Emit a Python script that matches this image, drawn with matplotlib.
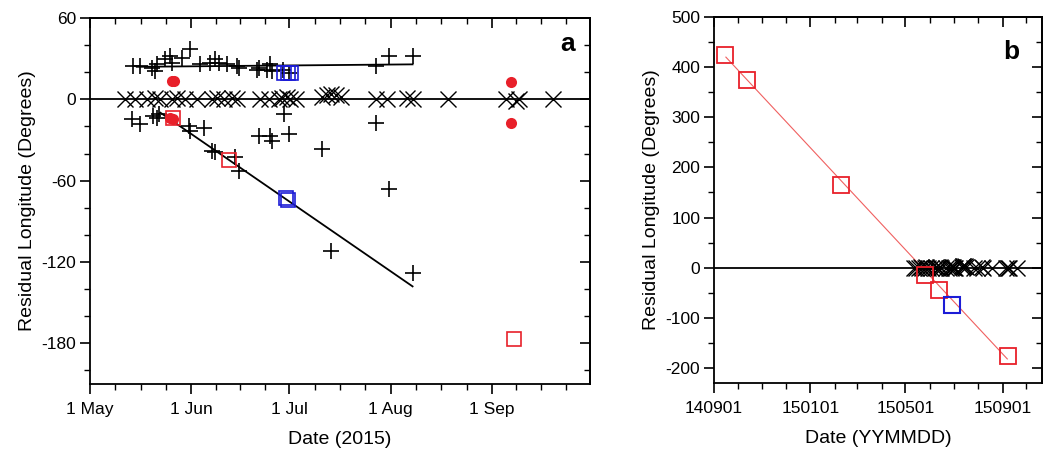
import matplotlib
matplotlib.use("Agg")
import matplotlib.pyplot as plt
import matplotlib.dates as mdates
from matplotlib.ticker import FixedLocator, MultipleLocator
from datetime import datetime
import numpy as np

plt.rcParams['font.family'] = ['Liberation Sans', 'DejaVu Sans']
plt.rcParams['axes.unicode_minus'] = False

# ---- panel a data (days after 1 May 2015, residual longitude in degrees)
plus_days = [13.3, 15.3, 18.9, 19.9, 20.4, 23.0, 24.5, 25.0, 28.1, 30.7, 33.7, 36.8, 38.3, 39.4,
             41.9, 45.0, 45.5, 51.1, 51.6, 54.2, 55.2, 55.7, 59.0, 60.8, 87.4, 91.5, 98.7,
             12.8, 15.3, 19.4, 20.4, 21.0, 30.2, 30.7, 34.8, 37.3, 38.3, 44.5, 45.5, 51.6,
             55.2, 55.7, 59.3, 60.8, 71.1, 87.4, 91.5, 73.6, 98.7]
plus_vals = [24.5, 24.5, 23.3, 20.8, 26.0, 29.4, 31.9, 27.0, 30.7, 36.8, 25.8, 27.0, 29.4, 27.0,
             25.8, 24.5, 23.3, 22.0, 23.3, 22.0, 25.8, 20.8, 21.5, 19.6, 24.5, 31.9, 31.9,
             -14.7, -18.4, -12.3, -13.5, -11.0, -19.6, -23.3, -20.8, -38.0, -39.2, -42.9, -52.8, -27.0,
             -27.0, -30.7, -11.0, -25.8, -36.8, -17.2, -66.2, -111.6, -128.0]

cross_days = [10.7, 13.8, 17.4, 19.9, 21.5, 25.1, 26.6, 29.1, 32.7, 37.3, 38.9, 40.9, 43.5, 45.0,
              52.1, 54.7, 57.8, 58.8, 60.3, 61.3, 62.9, 71.1, 72.6, 73.6, 75.2, 76.7, 87.4, 91.0,
              97.1, 98.7, 109.4, 127.3, 130.4, 131.4, 141.6]
cross_vals = [0, 0, 0, 1, 0, 0, 1, 0, 0, 0, 1, 0, 1, 0,
              0, 0, 0, 1, 2, 0, 0, 2, 3, 4, 3, 2, 0, 0,
              1, 0, 0, 0, -1, 0, 0]

circle_days = [25.0, 25.8, 24.5, 25.5, 128.8, 128.8]
circle_vals = [13.5, 13.5, -13.5, -14.7, 12.7, -17.7]

red_sq_days = [25.5, 42.6, 129.7]
red_sq_vals = [-13.5, -44.9, -176.7]

blue_sq_days = [59.5, 60.5, 61.5, 60.0, 60.6]
blue_sq_vals = [19.6, 19.6, 19.6, -73.0, -74.2]

fit_up_days = [14.3, 98.7]
fit_up_vals = [24.0, 25.8]
fit_dn_days = [21.5, 98.7]
fit_dn_vals = [-9.8, -138.0]

# ---- panel b data (days after 1 Sep 2014)
b_red_days = [14, 42, 160, 267, 284, 372]
b_red_vals = [425, 375, 165, -15, -44, -177]
b_blue_days = [301]
b_blue_vals = [-74]
b_fit_days = [15, 371]
b_fit_vals = [420, -182]

month_labels = ['1 May', '1 Jun', '1 Jul', '1 Aug', '1 Sep']

RED = '#e8202a'
BLUE = '#1c1cd6'

base_a = mdates.date2num(datetime(2015, 5, 1))
base_b = mdates.date2num(datetime(2014, 9, 1))

def tod(base, days):
    return base + np.array(days, dtype=float)

fig = plt.figure(figsize=(10.43, 4.5), dpi=100)
ax = fig.add_axes([0.0863, 0.1467, 0.4794, 0.8133])
bx = fig.add_axes([0.6846, 0.1489, 0.3145, 0.8133])

# panel a
ax.axhline(0, color='black', lw=1.3, zorder=1)
ax.plot(tod(base_a, fit_up_days), fit_up_vals, color='black', lw=1.3)
ax.plot(tod(base_a, fit_dn_days), fit_dn_vals, color='black', lw=1.3)
ax.plot(tod(base_a, cross_days), cross_vals, 'x', color='black', ms=11, mew=1.0, ls='none')
ax.plot(tod(base_a, plus_days), plus_vals, '+', color='black', ms=11, mew=1.2, ls='none')
ax.plot(tod(base_a, circle_days), circle_vals, 'o', color=RED, ms=8, mew=0, ls='none')
ax.plot(tod(base_a, red_sq_days), red_sq_vals, 's', mfc='none', mec=RED, ms=10, mew=1.2, ls='none')
ax.plot(tod(base_a, blue_sq_days), blue_sq_vals, 's', mfc='none', mec=BLUE, ms=10, mew=1.2, ls='none')

ax.set_xlim(base_a, mdates.date2num(datetime(2015, 10, 1)))
ax.set_ylim(-210, 60)
starts = [datetime(2015, m, 1) for m in range(5, 11)]
snum = mdates.date2num(starts)
ax.xaxis.set_major_locator(FixedLocator(snum[:5]))
ax.set_xticklabels(month_labels)
minors = []
for i in range(len(snum) - 1):
    for q in (0.25, 0.5, 0.75):
        minors.append(snum[i] + q * (snum[i + 1] - snum[i]))
ax.xaxis.set_minor_locator(FixedLocator(minors))
ax.yaxis.set_major_locator(MultipleLocator(60))
ax.yaxis.set_minor_locator(MultipleLocator(20))
ax.set_xlabel('Date (2015)', fontsize=14, labelpad=10)
ax.set_ylabel('Residual Longitude (Degrees)', fontsize=14, labelpad=4)
ax.text(0.955, 0.93, 'a', transform=ax.transAxes, fontsize=19, fontweight='bold',
        ha='center', va='center')

# panel b
bx.axhline(0, color='black', lw=1.3, zorder=1)
bx.plot(tod(base_b, b_fit_days), b_fit_vals, color='#f06060', lw=0.8)
bx.plot(tod(base_a, cross_days), cross_vals, 'x', color='black', ms=11, mew=1.0, ls='none')
bx.plot(tod(base_b, b_red_days), b_red_vals, 's', mfc='none', mec=RED, ms=11, mew=1.3, ls='none')
bx.plot(tod(base_b, b_blue_days), b_blue_vals, 's', mfc='none', mec=BLUE, ms=11, mew=1.5, ls='none')
bx.set_xlim(base_b, mdates.date2num(datetime(2015, 10, 21)))
bx.set_ylim(-230, 500)
bx.xaxis.set_major_locator(mdates.MonthLocator(bymonth=[1, 5, 9]))
bx.xaxis.set_major_formatter(mdates.DateFormatter('%y%m%d'))
bx.xaxis.set_minor_locator(mdates.MonthLocator())
bx.yaxis.set_major_locator(MultipleLocator(100))
bx.yaxis.set_minor_locator(MultipleLocator(50))
bx.set_xlabel('Date (YYMMDD)', fontsize=14, labelpad=10)
bx.set_ylabel('Residual Longitude (Degrees)', fontsize=14, labelpad=4)
bx.text(0.905, 0.905, 'b', transform=bx.transAxes, fontsize=19, fontweight='bold',
        ha='center', va='center')

for a in (ax, bx):
    for s in a.spines.values():
        s.set_linewidth(1.3)
    a.tick_params(axis='both', which='major', direction='out', length=7, width=1.2,
                  labelsize=12.5, pad=3)
    a.tick_params(axis='x', which='major', pad=6)
    a.tick_params(axis='both', which='minor', direction='out', length=4, width=1.0)
    a.tick_params(axis='x', which='both', top=False)
    a.tick_params(axis='y', which='both', right=False)
    sx = a.secondary_xaxis('top')
    sx.set_xticks(a.get_xticks())
    sx.xaxis.set_minor_locator(a.xaxis.get_minor_locator())
    sx.tick_params(which='major', direction='in', length=7, width=1.2, labeltop=False)
    sx.tick_params(which='minor', direction='in', length=4, width=1.0)
    sx.spines['top'].set_linewidth(1.3)
    sy = a.secondary_yaxis('right')
    sy.set_yticks(a.get_yticks())
    sy.yaxis.set_minor_locator(a.yaxis.get_minor_locator())
    sy.tick_params(which='major', direction='in', length=7, width=1.2, labelright=False)
    sy.tick_params(which='minor', direction='in', length=4, width=1.0)
    sy.spines['right'].set_linewidth(1.3)

ax.set_ylim(-210, 60)
bx.set_ylim(-230, 500)

fig.savefig('out.png', dpi=100)
